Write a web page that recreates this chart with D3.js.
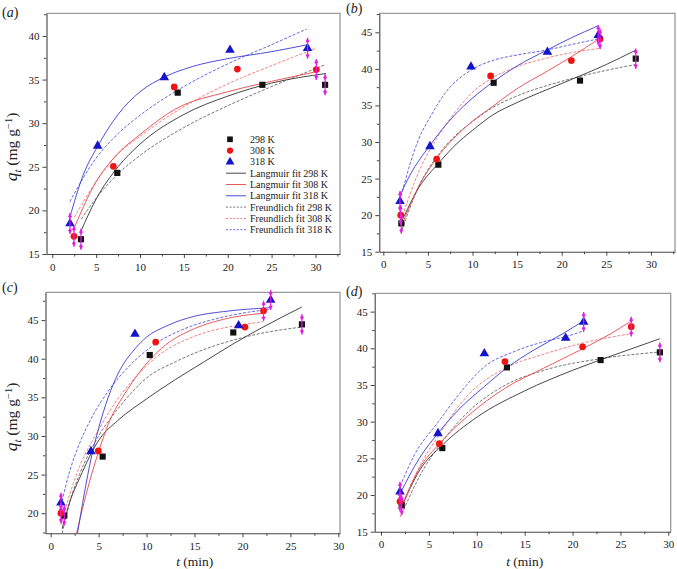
<!DOCTYPE html>
<html><head><meta charset="utf-8">
<script src="https://cdn.jsdelivr.net/npm/d3@7"></script>
<style>
body{margin:0;background:#fff}
svg{display:block}
text{font-family:"Liberation Serif","Times New Roman",serif;fill:#222}
</style>
</head><body><svg id="chart" width="677" height="569"></svg>
<script>
// ---------- data ----------
const temps = ["298 K", "308 K", "318 K"];
const panelNames = ["a", "b", "c", "d"];
const xTickValues = [0, 5, 10, 15, 20, 25, 30];
const yTicksA = [15, 20, 25, 30, 35, 40];
const yTicksB = [15, 20, 25, 30, 35, 40, 45];
const yTicksC = [20, 25, 30, 35, 40, 45];
const yTicksD = [15, 20, 25, 30, 35, 40, 45];

// measured points (t, q) per temperature: 298, 308, 318
const tA = [[3.27, 7.41, 14.3, 23.95, 31.1], [2.47, 6.96, 13.9, 21.1, 30.1], [2.02, 5.17, 12.77, 20.26, 29.1]];
const qA = [[16.69, 24.3, 33.5, 34.4, 34.4], [17.03, 25.05, 34.16, 36.2, 36.15], [18.5, 27.4, 35.25, 38.4, 38.6]];
const eA = [[1.2, 0, 0, 0, 1.2], [1.2, 0, 0, 0, 1.2], [1.2, 0, 0, 0, 1.2]];

const tB = [[2.02, 6.17, 12.37, 22.05, 28.3], [1.95, 5.98, 12.03, 21.08, 24.3], [1.87, 5.23, 9.83, 18.4, 24.1]];
const qB = [[18.87, 26.9, 38.1, 38.4, 41.4], [20.0, 27.66, 39.04, 41.14, 44.1], [21.9, 29.4, 40.3, 42.3, 44.6]];
const eB = [[1.4, 0, 0, 0, 1.4], [1.4, 0, 0, 0, 1.4], [1.4, 0, 0, 0, 1.4]];

const tC = [[1.42, 5.42, 10.33, 19.04, 26.2], [1.07, 4.97, 10.95, 20.26, 22.2], [1.07, 4.2, 8.79, 19.6, 22.94]];
const qC = [[19.7, 27.33, 40.48, 43.4, 44.45], [20.0, 28.06, 42.16, 44.1, 46.2], [21.35, 28.0, 43.2, 44.3, 47.6]];
const eC = [[1.3, 0, 0, 0, 1.3], [1.3, 0, 0, 0, 1.3], [1.3, 0, 0, 0, 1.3]];

const tD = [[2.16, 6.4, 13.15, 22.93, 29.12], [1.98, 6.09, 12.94, 21.05, 26.13], [1.98, 5.95, 10.79, 19.28, 21.16]];
const qD = [[18.6, 26.4, 37.4, 38.4, 39.45], [19.1, 27.0, 38.2, 40.2, 42.95], [20.45, 28.4, 39.3, 41.4, 43.6]];
const eD = [[1.35, 0, 0, 0, 1.35], [1.35, 0, 0, 0, 1.35], [1.35, 0, 0, 0, 1.35]];

// fitted curves (Langmuir solid, Freundlich dashed)
const langTA = [[3.3, 5, 7.5, 10, 15, 20, 25, 31.2], [2.5, 5, 7, 10, 14, 20, 25, 30.1], [2.0, 3.5, 5.2, 7.5, 10, 12.8, 16, 20, 25, 29.1]];
const langQA = [[17.7, 21.3, 25.0, 27.6, 31.0, 33.1, 34.6, 35.7], [18.0, 23.3, 26.0, 28.7, 31.6, 33.6, 34.8, 35.9], [19.2, 24.0, 27.4, 31.0, 33.6, 35.3, 36.5, 37.4, 38.2, 39.0]];
const freuTA = [[3.3, 5, 7.5, 10, 15, 20, 25, 31.1], [2.5, 5, 7.5, 10, 15, 20, 25, 30.1], [2.0, 5, 7.5, 10, 15, 20, 25, 29.0]];
const freuQA = [[19.0, 21.4, 24.2, 26.3, 29.5, 32.0, 34.2, 36.7], [19.2, 23.3, 26.5, 28.5, 31.9, 34.5, 36.6, 38.6], [21.0, 26.0, 28.8, 30.9, 34.2, 36.8, 39.0, 40.8]];

const langTB = [[2.0, 4, 6.2, 8, 10, 12.4, 15, 20, 25, 28.2], [2.0, 4, 6, 9, 12.4, 15, 18.4, 21, 24.3], [1.87, 3, 5.2, 8, 10, 12.4, 15, 18.4, 21, 24.1]];
const langQB = [[19.0, 23.8, 27.1, 29.5, 31.6, 33.8, 35.4, 38.0, 40.6, 42.5], [18.4, 24.0, 27.8, 31.8, 35.0, 37.3, 39.7, 41.6, 44.2], [22.7, 25.5, 29.5, 33.7, 36.0, 38.3, 40.4, 42.6, 44.2, 45.9]];
const freuTB = [[2.1, 4, 6.2, 8, 10, 12.4, 15, 20, 25, 28.3], [2.0, 4, 6, 8, 10, 12, 15, 18.4, 21, 24.3], [1.87, 3, 4, 5.2, 7, 9.8, 12.4, 15, 18.4, 21, 24.1]];
const freuQB = [[18.0, 24.0, 28.3, 30.8, 32.8, 34.8, 36.3, 38.3, 39.8, 40.6], [19.3, 26.0, 30.5, 34.0, 36.8, 38.6, 40.3, 41.5, 42.2, 42.8], [22.0, 27.0, 30.5, 33.3, 36.8, 39.8, 41.2, 41.9, 42.6, 43.3, 44.1]];

const langTC = [[1.2, 2, 3, 5.1, 7, 10, 13, 16, 19, 22, 26.2], [2.7, 3.5, 5, 6, 8, 10.3, 12, 15, 18, 22.2], [2.8, 3.5, 4.2, 5, 6, 7, 8.8, 10, 12, 15, 18, 22.9]];
const langQC = [[18.0, 21.5, 24.5, 29.6, 32.0, 34.8, 37.3, 39.6, 41.9, 44.0, 46.7], [17.4, 21.5, 28.0, 31.5, 36.0, 39.8, 41.8, 43.9, 45.1, 45.9], [17.4, 22.5, 27.0, 31.0, 35.0, 38.0, 41.3, 42.8, 44.2, 45.5, 46.1, 46.6]];
const freuTC = [[1.2, 2, 3, 5, 7, 10, 13, 16, 19, 22, 26.2], [1.07, 2, 3, 5, 7, 9, 11, 14, 17, 20, 22.2], [1.07, 2, 3, 4.2, 6, 8, 11, 14, 17, 20, 22.9]];
const freuQC = [[17.4, 21.5, 25.0, 30.0, 33.5, 37.5, 39.6, 41.2, 42.4, 43.3, 44.1], [18.5, 22.5, 26.0, 30.8, 34.8, 37.8, 40.2, 42.4, 43.7, 44.4, 44.8], [21.0, 25.5, 29.0, 32.2, 35.8, 38.8, 42.0, 43.9, 45.1, 45.9, 46.4]];

const langTD = [[2.16, 4, 6.4, 10, 15, 20, 25, 29.1], [2.0, 4, 6.1, 9, 13, 17, 21, 24, 26.1], [2, 4, 6, 8, 10.8, 13.2, 16, 19, 21.2]];
const langQD = [[18.4, 23.3, 26.8, 30.6, 34.2, 37.0, 39.4, 41.3], [18.0, 23.6, 27.0, 30.7, 34.6, 37.3, 39.9, 42.0, 43.7], [20.2, 25.0, 28.5, 31.5, 34.8, 37.4, 39.8, 42.0, 43.8]];
const freuTD = [[2.16, 4, 6.4, 9, 13, 17, 23, 29.1], [2.0, 3, 4, 6.1, 9, 13, 17, 21, 26.1], [2, 3.5, 6, 8, 10.8, 14, 17, 19.3, 21.2]];
const freuQD = [[17.4, 22.5, 27.3, 31.2, 35.0, 37.0, 38.6, 39.5], [17.0, 21.0, 23.8, 28.3, 33.5, 37.3, 39.2, 40.7, 42.0], [21.2, 25.5, 30.0, 33.5, 37.5, 39.6, 40.9, 41.6, 42.4]];

// ---------- layout / style ----------
const markerColors = ["#111111", "#ee1414", "#1414cc"];
const solidColors = ["#333333", "#e84848", "#3a3ad6"];
const dashColors = ["#666666", "#f07272", "#5656dc"];
const errColor = "#e41ee4";
const symbolTypes = [d3.symbolSquare, d3.symbolCircle, d3.symbolTriangle];
const symbolSizes = [38, 36, 40];

const panels = [
  {name: "a", L: 46.5, R: 340, T: 13.3, B: 254, xd: [-0.66, 32.8], yd: [15, 42.6], yt: yTicksA,
   t: tA, q: qA, e: eA, lt: langTA, lq: langQA, ft: freuTA, fq: freuQA, ylab: 147, xlab: false, legend: true, lab: [2, 17]},
  {name: "b", L: 379.3, R: 675, T: 13.3, B: 251.7, xd: [-0.45, 32.7], yd: [15, 47.6], yt: yTicksB,
   t: tB, q: qB, e: eB, lt: langTB, lq: langQB, ft: freuTB, fq: freuQB, ylab: null, xlab: false, legend: false, lab: [346, 13]},
  {name: "c", L: 45.5, R: 340, T: 292.3, B: 533.3, xd: [-0.54, 30.17], yd: [17.4, 48.6], yt: yTicksC,
   t: tC, q: qC, e: eC, lt: langTC, lq: langQC, ft: freuTC, fq: freuQC, ylab: 417, xlab: true, legend: false, lab: [2, 292]},
  {name: "d", L: 374.7, R: 670.7, T: 293.3, B: 531.7, xd: [-0.66, 30.25], yd: [15, 47.5], yt: yTicksD,
   t: tD, q: qD, e: eD, lt: langTD, lq: langQD, ft: freuTD, fq: freuQD, ylab: null, xlab: true, legend: false, lab: [346, 296]}
];

const svg = d3.select("#chart");
const serif = '"Liberation Serif", "Times New Roman", serif';

function minorTicks(dom, step) {
  const out = [];
  for (let v = Math.ceil(dom[0] / step) * step; v <= dom[1] + 1e-9; v += step) out.push(+v.toFixed(4));
  return out;
}

panels.forEach(p => {
  const x = d3.scaleLinear().domain(p.xd).range([p.L, p.R]);
  const y = d3.scaleLinear().domain(p.yd).range([p.B, p.T]);
  const g = svg.append("g");

  // frame (top & right)
  g.append("path").attr("d", `M${p.L},${p.T}H${p.R}V${p.B}`)
    .attr("fill", "none").attr("stroke", "#9a9a9a").attr("stroke-width", 1.3);

  // minor ticks
  const xm = minorTicks(p.xd, 2.5).filter(v => v % 5 !== 0);
  const ym = minorTicks(p.yd, 2.5).filter(v => v % 5 !== 0);
  g.append("g").attr("transform", `translate(0,${p.B})`)
    .call(d3.axisBottom(x).tickValues(xm).tickSize(2.5).tickSizeOuter(0).tickFormat(""))
    .call(a => a.select(".domain").remove())
    .selectAll("line").attr("stroke", "#444");
  g.append("g").attr("transform", `translate(${p.L},0)`)
    .call(d3.axisLeft(y).tickValues(ym).tickSize(2.5).tickSizeOuter(0).tickFormat(""))
    .call(a => a.select(".domain").remove())
    .selectAll("line").attr("stroke", "#444");

  // major axes
  const xa = g.append("g").attr("transform", `translate(0,${p.B})`)
    .call(d3.axisBottom(x).tickValues(xTickValues).tickSize(4).tickPadding(5).tickSizeOuter(0));
  const ya = g.append("g").attr("transform", `translate(${p.L},0)`)
    .call(d3.axisLeft(y).tickValues(p.yt).tickSize(4).tickPadding(3).tickSizeOuter(0));
  [xa, ya].forEach(a => {
    a.attr("font-family", null);
    a.select(".domain").attr("stroke", "#444").attr("stroke-width", 1.1);
    a.selectAll("line").attr("stroke", "#444");
    a.selectAll("text").attr("font-size", 11).attr("fill", "#222").style("font-family", serif);
  });

  // clip for curves
  const clipId = "clip" + p.name;
  svg.append("clipPath").attr("id", clipId).append("rect")
    .attr("x", p.L).attr("y", p.T).attr("width", p.R - p.L).attr("height", p.B - p.T);
  const plot = g.append("g").attr("clip-path", `url(#${clipId})`);

  const line = d3.line().x(d => x(d[0])).y(d => y(d[1])).curve(d3.curveMonotoneX);
  for (let s = 0; s < 3; s++) {
    const fd = p.ft[s].map((tv, i) => [tv, p.fq[s][i]]);
    plot.append("path").attr("d", line(fd)).attr("fill", "none")
      .attr("stroke", dashColors[s]).attr("stroke-width", 0.9).attr("stroke-dasharray", "3,1.6");
    const ld = p.lt[s].map((tv, i) => [tv, p.lq[s][i]]);
    plot.append("path").attr("d", line(ld)).attr("fill", "none")
      .attr("stroke", solidColors[s]).attr("stroke-width", 0.9);
  }

  // markers
  for (let s = 0; s < 3; s++) {
    p.t[s].forEach((tv, i) => {
      g.append("path")
        .attr("d", d3.symbol().type(symbolTypes[s]).size(symbolSizes[s])())
        .attr("transform", `translate(${x(tv)},${y(p.q[s][i])})`)
        .attr("fill", markerColors[s]);
    });
  }
  // error bars
  for (let s = 0; s < 3; s++) {
    p.t[s].forEach((tv, i) => {
      const e = p.e[s][i];
      if (!e) return;
      const cx = x(tv), y1 = y(p.q[s][i] + e), y2 = y(p.q[s][i] - e);
      g.append("line").attr("x1", cx).attr("x2", cx).attr("y1", y1).attr("y2", y2)
        .attr("stroke", errColor).attr("stroke-width", 1.2);
      g.append("path").attr("d", `M${cx},${y1}l-2,4h4z`).attr("fill", errColor);
      g.append("path").attr("d", `M${cx},${y2}l-2,-4h4z`).attr("fill", errColor);
      g.append("path").attr("d", `M${cx},${y1 + 6}l-1.8,-3h3.6z`).attr("fill", errColor);
      g.append("path").attr("d", `M${cx},${y2 - 6}l-1.8,3h3.6z`).attr("fill", errColor);
    });
  }

  // panel label
  const lt = svg.append("text").attr("x", p.lab[0]).attr("y", p.lab[1]).attr("font-size", 14).style("font-family", serif);
  lt.append("tspan").text("(");
  lt.append("tspan").attr("font-style", "italic").text(p.name);
  lt.append("tspan").text(")");

  // y label
  if (p.ylab !== null) {
    const yl = svg.append("text").attr("transform", `translate(17,${p.ylab}) rotate(-90)`)
      .attr("text-anchor", "middle").attr("font-size", 15.5).style("font-family", serif);
    yl.append("tspan").attr("font-style", "italic").attr("font-size", 17.5).text("q");
    yl.append("tspan").attr("font-style", "italic").attr("font-size", 11).attr("dy", 3.5).text("t");
    yl.append("tspan").attr("dy", -3.5).text(" (mg g");
    yl.append("tspan").attr("font-size", 10.5).attr("dy", -5.5).text("\u22121");
    yl.append("tspan").attr("dy", 5.5).text(")");
  }
  // x label
  if (p.xlab) {
    const xl = svg.append("text").attr("x", (p.L + p.R) / 2 + 2).attr("y", 565.5)
      .attr("text-anchor", "middle").attr("font-size", 13.5).style("font-family", serif);
    xl.append("tspan").attr("font-style", "italic").text("t");
    xl.append("tspan").text(" (min)");
  }

  // legend
  if (p.legend) {
    const lx = 230, ly0 = 139.3, dy = 11.3;
    const lg = svg.append("g").style("font-family", serif);
    temps.forEach((tname, s) => {
      const yy = ly0 + s * dy;
      lg.append("path").attr("d", d3.symbol().type(symbolTypes[s]).size(symbolSizes[s] * 0.85)())
        .attr("transform", `translate(${lx},${yy})`).attr("fill", markerColors[s]);
      lg.append("text").attr("x", lx + 20).attr("y", yy + 3.5).attr("font-size", 10).text(tname);
    });
    temps.forEach((tname, s) => {
      const yy = ly0 + (3 + s) * dy;
      lg.append("line").attr("x1", lx - 4).attr("x2", lx + 16).attr("y1", yy).attr("y2", yy)
        .attr("stroke", solidColors[s]).attr("stroke-width", 0.9);
      lg.append("text").attr("x", lx + 20).attr("y", yy + 3.5).attr("font-size", 10).text("Langmuir fit " + tname);
    });
    temps.forEach((tname, s) => {
      const yy = ly0 + (6 + s) * dy;
      lg.append("line").attr("x1", lx - 4).attr("x2", lx + 16).attr("y1", yy).attr("y2", yy)
        .attr("stroke", dashColors[s]).attr("stroke-width", 0.9).attr("stroke-dasharray", "2,1.6");
      lg.append("text").attr("x", lx + 20).attr("y", yy + 3.5).attr("font-size", 10).text("Freundlich fit " + tname);
    });
  }
});
</script>
</body></html>
